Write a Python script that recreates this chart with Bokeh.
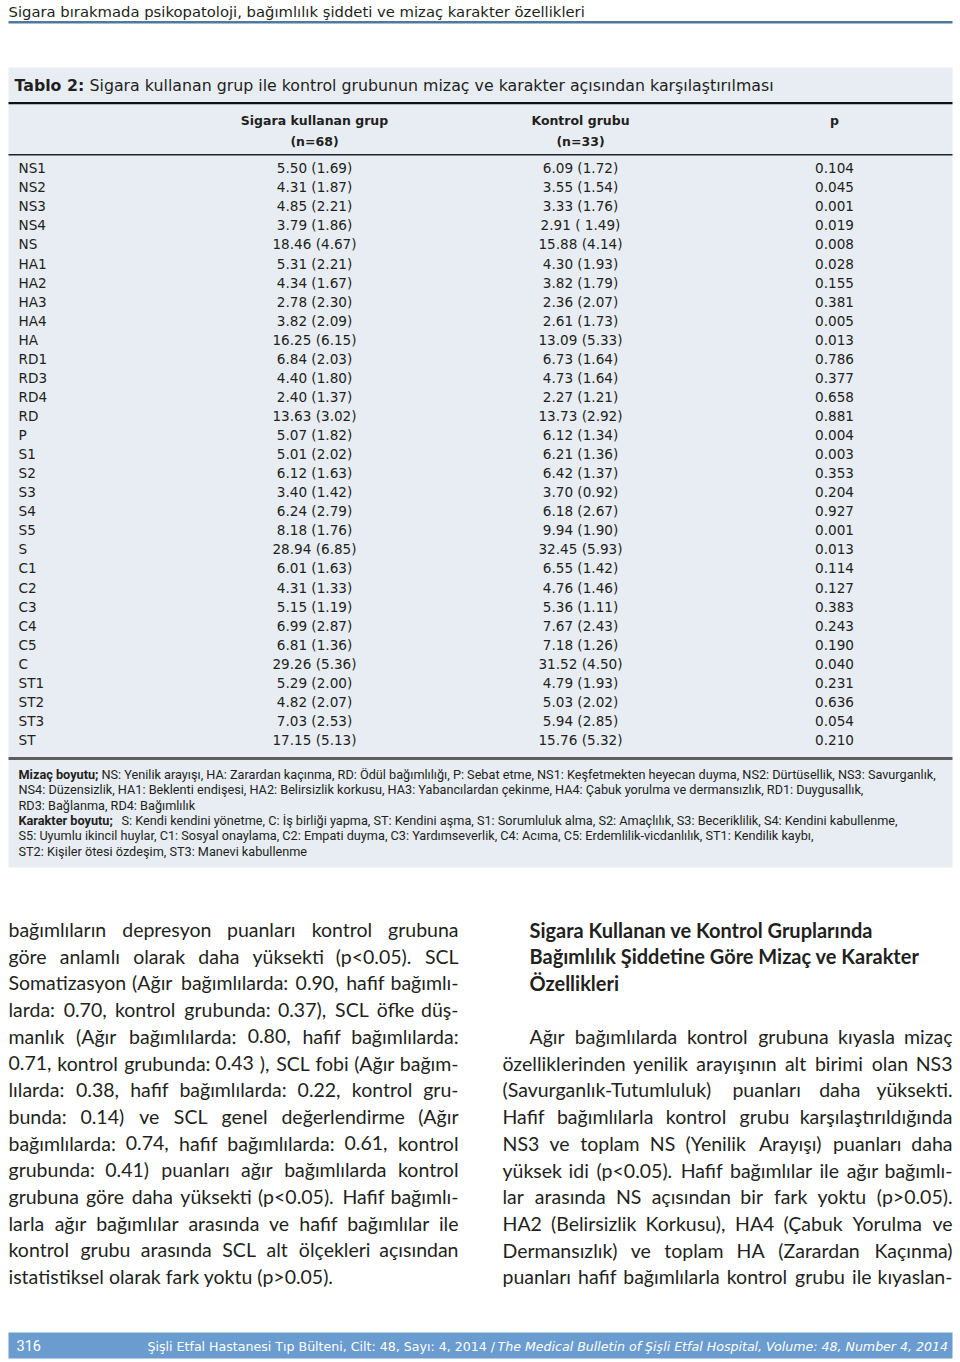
from bokeh.plotting import figure
from bokeh.models import ColumnDataSource, Range1d
from bokeh.core.properties import value
from bokeh.embed import file_html
from bokeh.resources import INLINE

# ---------------- data ----------------
labels = ["NS1", "NS2", "NS3", "NS4", "NS", "HA1", "HA2", "HA3", "HA4", "HA",
          "RD1", "RD3", "RD4", "RD", "P", "S1", "S2", "S3", "S4", "S5", "S",
          "C1", "C2", "C3", "C4", "C5", "C", "ST1", "ST2", "ST3", "ST"]
smoker_mean = [5.50, 4.31, 4.85, 3.79, 18.46, 5.31, 4.34, 2.78, 3.82, 16.25,
               6.84, 4.40, 2.40, 13.63, 5.07, 5.01, 6.12, 3.40, 6.24, 8.18, 28.94,
               6.01, 4.31, 5.15, 6.99, 6.81, 29.26, 5.29, 4.82, 7.03, 17.15]
smoker_sd = [1.69, 1.87, 2.21, 1.86, 4.67, 2.21, 1.67, 2.30, 2.09, 6.15,
             2.03, 1.80, 1.37, 3.02, 1.82, 2.02, 1.63, 1.42, 2.79, 1.76, 6.85,
             1.63, 1.33, 1.19, 2.87, 1.36, 5.36, 2.00, 2.07, 2.53, 5.13]
control_mean = [6.09, 3.55, 3.33, 2.91, 15.88, 4.30, 3.82, 2.36, 2.61, 13.09,
                6.73, 4.73, 2.27, 13.73, 6.12, 6.21, 6.42, 3.70, 6.18, 9.94, 32.45,
                6.55, 4.76, 5.36, 7.67, 7.18, 31.52, 4.79, 5.03, 5.94, 15.76]
control_sd = [1.72, 1.54, 1.76, 1.49, 4.14, 1.93, 1.79, 2.07, 1.73, 5.33,
              1.64, 1.64, 1.21, 2.92, 1.34, 1.36, 1.37, 0.92, 2.67, 1.90, 5.93,
              1.42, 1.46, 1.11, 2.43, 1.26, 4.50, 1.93, 2.02, 2.85, 5.32]
p_values = [0.104, 0.045, 0.001, 0.019, 0.008, 0.028, 0.155, 0.381, 0.005, 0.013,
            0.786, 0.377, 0.658, 0.881, 0.004, 0.003, 0.353, 0.204, 0.927, 0.001, 0.013,
            0.114, 0.127, 0.383, 0.243, 0.190, 0.040, 0.231, 0.636, 0.054, 0.210]

page_header = "Sigara bırakmada psikopatoloji, bağımlılık şiddeti ve mizaç karakter özellikleri"
table_title_bold = "Tablo 2:"
table_title = "Sigara kullanan grup ile kontrol grubunun mizaç ve karakter açısından karşılaştırılması"
col_heads = [("Sigara kullanan grup", "(n=68)"), ("Kontrol grubu", "(n=33)"), ("p", "")]

notes = [
    ("Mizaç boyutu;", "NS: Yenilik arayışı, HA: Zarardan kaçınma, RD: Ödül bağımlılığı, P: Sebat etme, NS1: Keşfetmekten heyecan duyma, NS2: Dürtüsellik, NS3: Savurganlık,"),
    ("", "NS4: Düzensizlik, HA1: Beklenti endişesi, HA2: Belirsizlik korkusu, HA3: Yabancılardan çekinme, HA4: Çabuk yorulma ve dermansızlık, RD1: Duygusallık,"),
    ("", "RD3: Bağlanma, RD4: Bağımlılık"),
    ("Karakter boyutu;", "S: Kendi kendini yönetme, C: İş birliği yapma, ST: Kendini aşma, S1: Sorumluluk alma, S2: Amaçlılık, S3: Beceriklilik, S4: Kendini kabullenme,"),
    ("", "S5: Uyumlu ikincil huylar, C1: Sosyal onaylama, C2: Empati duyma, C3: Yardımseverlik, C4: Acıma, C5: Erdemlilik-vicdanlılık, ST1: Kendilik kaybı,"),
    ("", "ST2: Kişiler ötesi özdeşim, ST3: Manevi kabullenme"),
]

left_para = [
    "bağımlıların depresyon puanları kontrol grubuna",
    "göre anlamlı olarak daha yüksekti (p<0.05). SCL",
    "Somatizasyon (Ağır bağımlılarda: 0.90, hafif bağımlı-",
    "larda: 0.70, kontrol grubunda: 0.37), SCL öfke düş-",
    "manlık (Ağır bağımlılarda: 0.80, hafif bağımlılarda:",
    "0.71, kontrol grubunda: 0.43 ), SCL fobi (Ağır bağım-",
    "lılarda: 0.38, hafif bağımlılarda: 0.22, kontrol gru-",
    "bunda: 0.14) ve SCL genel değerlendirme (Ağır",
    "bağımlılarda: 0.74, hafif bağımlılarda: 0.61, kontrol",
    "grubunda: 0.41) puanları ağır bağımlılarda kontrol",
    "grubuna göre daha yüksekti (p<0.05). Hafif bağımlı-",
    "larla ağır bağımlılar arasında ve hafif bağımlılar ile",
    "kontrol grubu arasında SCL alt ölçekleri açısından",
    "istatistiksel olarak fark yoktu (p>0.05).",
]
right_heading = [
    "Sigara Kullanan ve Kontrol Gruplarında",
    "Bağımlılık Şiddetine Göre Mizaç ve Karakter",
    "Özellikleri",
]
right_para = [
    "Ağır bağımlılarda kontrol grubuna kıyasla mizaç",
    "özelliklerinden yenilik arayışının alt birimi olan NS3",
    "(Savurganlık-Tutumluluk) puanları daha yüksekti.",
    "Hafif bağımlılarla kontrol grubu karşılaştırıldığında",
    "NS3 ve toplam NS (Yenilik Arayışı) puanları daha",
    "yüksek idi (p<0.05). Hafif bağımlılar ile ağır bağımlı-",
    "lar arasında NS açısından bir fark yoktu (p>0.05).",
    "HA2 (Belirsizlik Korkusu), HA4 (Çabuk Yorulma ve",
    "Dermansızlık) ve toplam HA (Zarardan Kaçınma)",
    "puanları hafif bağımlılarla kontrol grubu ile kıyaslan-",
]
footer_page = "316"
footer_tr = "Şişli Etfal Hastanesi Tıp Bülteni, Cilt: 48, Sayı: 4, 2014 /"
footer_en = "The Medical Bulletin of Şişli Etfal Hospital, Volume: 48, Number 4, 2014"

# ---------------- styles ----------------
INK = "#231f20"
TABLE_BG = "#e8edf4"
HEAD_LINE = "#4f7aa0"
FOOT_BG = "#6a9ccf"
TFONT = "DejaVu Sans"
NFONT = "Roboto"
BFONT = "Lato"

p = figure(width=960, height=1362, x_range=Range1d(0, 960), y_range=Range1d(1362, 0),
           output_backend="svg", toolbar_location=None, min_border=0,
           x_axis_location=None, y_axis_location=None)
p.grid.visible = False
p.outline_line_color = None
p.background_fill_color = "white"
p.border_fill_color = "white"


def add_text(xs, ys, texts, font=TFONT, size=14, style="normal", color=INK,
             align="left", baseline="middle"):
    src = ColumnDataSource(dict(x=list(xs), y=list(ys), t=list(texts)))
    p.text(x="x", y="y", text="t", source=src, text_font=value(font),
           text_font_size=f"{size}px", text_font_style=style, text_color=color,
           text_align=align, text_baseline=baseline)


# width estimates (em) for Lato, used to justify body text
WID = dict(a=.49, b=.55, c=.46, d=.55, e=.51, f=.32, g=.50, h=.55, i=.24, j=.24, k=.50,
           l=.24, m=.82, n=.55, o=.55, p=.55, q=.55, r=.37, s=.42, t=.35, u=.55, v=.50,
           w=.76, x=.48, y=.50, z=.44,
           A=.68, B=.63, C=.67, D=.74, E=.56, F=.54, G=.72, H=.75, I=.29, J=.37, K=.65,
           L=.50, M=.90, N=.75, O=.79, P=.59, Q=.79, R=.61, S=.52, T=.58, U=.72, V=.68,
           W=1.0, X=.65, Y=.62, Z=.61)
WID.update({" ": .19, ".": .22, ",": .22, ":": .24, ";": .24, "(": .30, ")": .30,
            "-": .34, "<": .58, ">": .58})
for d in "0123456789":
    WID[d] = .58
BASE = {"ı": "i", "ğ": "g", "ş": "s", "ç": "c", "ö": "o", "ü": "u", "Ş": "S", "Ç": "C",
        "Ö": "O", "Ü": "U", "Ğ": "G", "İ": "I"}


def est(s, size, bold=False):
    return sum(WID.get(BASE.get(ch, ch), .5) for ch in s) * size * (1.05 if bold else 1.0)


def paragraph(lines, x0, x1, y0, dy, size, justify_last=False, indent=0, style="normal"):
    lx, ly, lt, rx, ry, rt = [], [], [], [], [], []
    for k, line in enumerate(lines):
        y = y0 + k * dy
        start = x0 + (indent if k == 0 else 0)
        words = line.split(" ")
        last = (k == len(lines) - 1) and not justify_last
        if last or len(words) < 2:
            lx.append(start); ly.append(y); lt.append(line)
            continue
        ws = [est(w, size, style == "bold") for w in words]
        gap = (x1 - start - sum(ws)) / (len(words) - 1)
        x = start
        for w, wd in zip(words[:-1], ws[:-1]):
            lx.append(x); ly.append(y); lt.append(w)
            x += wd + gap
        rx.append(x1); ry.append(y); rt.append(words[-1])
    add_text(lx, ly, lt, font=BFONT, size=size, style=style)
    add_text(rx, ry, rt, font=BFONT, size=size, style=style, align="right")


# ---------------- page header ----------------
add_text([8], [11], [page_header], size=14.8)
p.segment(x0=[8], y0=[21.8], x1=[952], y1=[21.8], line_color=HEAD_LINE, line_width=2.5)

# ---------------- table ----------------
p.quad(left=[8], right=[952], top=[67], bottom=[867], fill_color=TABLE_BG, line_color=None)
add_text([14], [85], [table_title_bold], size=15.8, style="bold")
add_text([89], [85], [table_title], size=15.8)
p.segment(x0=[8], y0=[102.7], x1=[952], y1=[102.7], line_color="#111111", line_width=2.2)
p.segment(x0=[8], y0=[154.3], x1=[952], y1=[154.3], line_color="#222222", line_width=1.4)
p.segment(x0=[8], y0=[758], x1=[952], y1=[758], line_color="#5e5e5e", line_width=3)

col_x = [314, 580, 834]
add_text(col_x, [120] * 3, [h[0] for h in col_heads], size=12.5, style="bold", align="center")
add_text(col_x[:2], [140.5] * 2, [h[1] for h in col_heads[:2]], size=12.5, style="bold", align="center")

row_y = [167.7 + i * 19.06 for i in range(len(labels))]
smoker_txt = [f"{m:.2f} ({s:.2f})" for m, s in zip(smoker_mean, smoker_sd)]
control_txt = [f"{m:.2f} ({s:.2f})" for m, s in zip(control_mean, control_sd)]
control_txt[3] = f"{control_mean[3]:.2f} ( {control_sd[3]:.2f})"
p_txt = [f"{v:.3f}" for v in p_values]
add_text([18] * len(labels), row_y, labels, size=13.6)
add_text([col_x[0]] * len(labels), row_y, smoker_txt, size=13.6, align="center")
add_text([col_x[1]] * len(labels), row_y, control_txt, size=13.6, align="center")
add_text([col_x[2]] * len(labels), row_y, p_txt, size=13.6, align="center")

note_y = [774 + k * 15.3 for k in range(len(notes))]
bold_end = {"Mizaç boyutu;": 101, "Karakter boyutu;": 121}
for (b, t), y in zip(notes, note_y):
    if b:
        add_text([18], [y], [b], font=NFONT, size=12.7, style="bold")
        add_text([bold_end[b]], [y], [t], font=NFONT, size=12.7)
    else:
        add_text([18], [y], [t], font=NFONT, size=12.7)

# ---------------- body text ----------------
paragraph(left_para, 8, 458, 929, 26.7, 19.5)
add_text([529] * 3, [929 + k * 26.5 for k in range(3)], right_heading, font=BFONT, size=20, style="bold")
paragraph(right_para, 502, 952, 1036, 26.7, 19.5, justify_last=True, indent=27)

# ---------------- footer ----------------
p.quad(left=[8], right=[952], top=[1332], bottom=[1358], fill_color=FOOT_BG, line_color=None)
add_text([16], [1345], [footer_page], font=NFONT, size=14.5, color="white")
add_text([147], [1345.5], [footer_tr], size=12.6, color="white")
add_text([497], [1345.5], [footer_en], size=12.6, style="italic", color="white")

open("out.html", "w").write(file_html(p, INLINE))
